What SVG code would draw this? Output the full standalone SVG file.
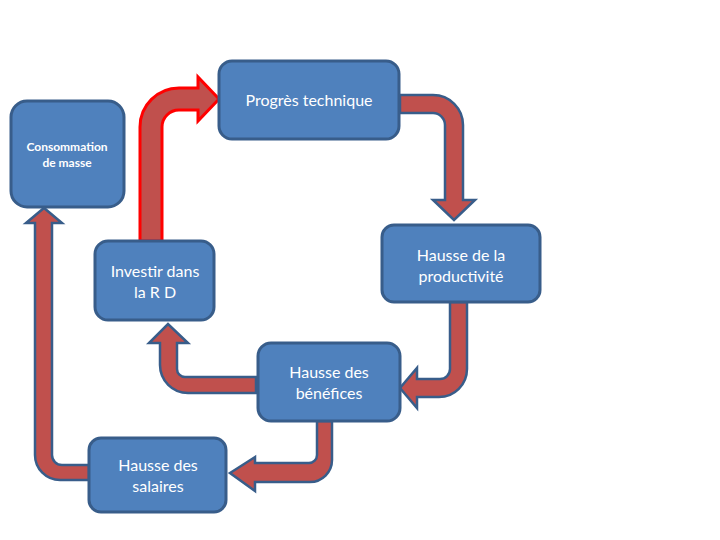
<svg xmlns="http://www.w3.org/2000/svg" width="720" height="540" viewBox="0 0 720 540">
<style>
.node{fill:#4F81BD;stroke:#385D8A;stroke-width:3}
.arr{fill:#C0504D;stroke:#385D8A;stroke-width:2.5;stroke-linejoin:miter}
.arr-red{fill:#C0504D;stroke:#FF0000;stroke-width:3;stroke-linejoin:miter}
.t{font-family:Lato,"Open Sans","Liberation Sans",sans-serif;fill:#FFFFFF;text-anchor:middle;font-size:16px}
.tb{font-family:Lato,"Open Sans","Liberation Sans",sans-serif;fill:#FFFFFF;text-anchor:middle;font-size:12px;font-weight:bold}
</style>
<rect width="720" height="540" fill="#FFFFFF"/>
<g id="connectors">
<path class="arr-red" d="M140,241 L140,127 A39,39 0 0 1 179,88 L198,88 L198,77 L219,99 L198,121 L198,110 L179,110 A17,17 0 0 0 162,127 L162,241 Z"/>
<path class="arr" d="M400,95 L433,95 A30,30 0 0 1 463,125 L463,200 L475,200 L454,220 L433,200 L445,200 L445,125 A12,12 0 0 0 433,113 L400,113 Z"/>
<path class="arr" d="M450,302 L450,369 A10,10 0 0 1 440,379 L417,379 L417,368 L400,388 L417,408 L417,397 L439,397 A28,28 0 0 0 467,369 L467,302 Z"/>
<path class="arr" d="M256,377 L185,377 A8,8 0 0 1 177,369 L177,343 L188,343 L168,324 L149,343 L160,343 L160,365 A28,28 0 0 0 188,393 L256,393 Z"/>
<path class="arr" d="M317,421 L317,455 A8,8 0 0 1 309,463 L255,463 L255,457 L230,473 L255,491 L255,482 L310,482 A22,22 0 0 0 332,460 L332,421 Z"/>
<path class="arr" d="M89,465 L62,465 A10,10 0 0 1 52,455 L52,223 L62,223 L44,208 L26,223 L35,223 L35,455 A25,25 0 0 0 60,480 L89,480 Z"/>
</g>
<g id="progres">
<rect class="node" x="219" y="61" width="180" height="78" rx="13"/>
<text class="t" x="309" y="106">Progrès technique</text>
</g>
<g id="consommation">
<rect class="node" x="11" y="101" width="113" height="106" rx="16"/>
<text class="tb" x="67" y="151">Consommation</text>
<text class="tb" x="67" y="167">de masse</text>
</g>
<g id="productivite">
<rect class="node" x="382" y="225" width="158" height="77" rx="12"/>
<text class="t" x="461" y="261">Hausse de la</text>
<text class="t" x="461" y="282">productivité</text>
</g>
<g id="investir">
<rect class="node" x="95" y="241" width="119" height="79" rx="13"/>
<text class="t" x="155" y="277">Investir dans</text>
<text class="t" x="155" y="298">la R D</text>
</g>
<g id="benefices">
<rect class="node" x="258" y="343" width="142" height="78" rx="13"/>
<text class="t" x="329" y="378">Hausse des</text>
<text class="t" x="329" y="399">bénéfices</text>
</g>
<g id="salaires">
<rect class="node" x="89" y="438" width="137" height="74" rx="12"/>
<text class="t" x="158" y="471">Hausse des</text>
<text class="t" x="158" y="492">salaires</text>
</g>
</svg>
